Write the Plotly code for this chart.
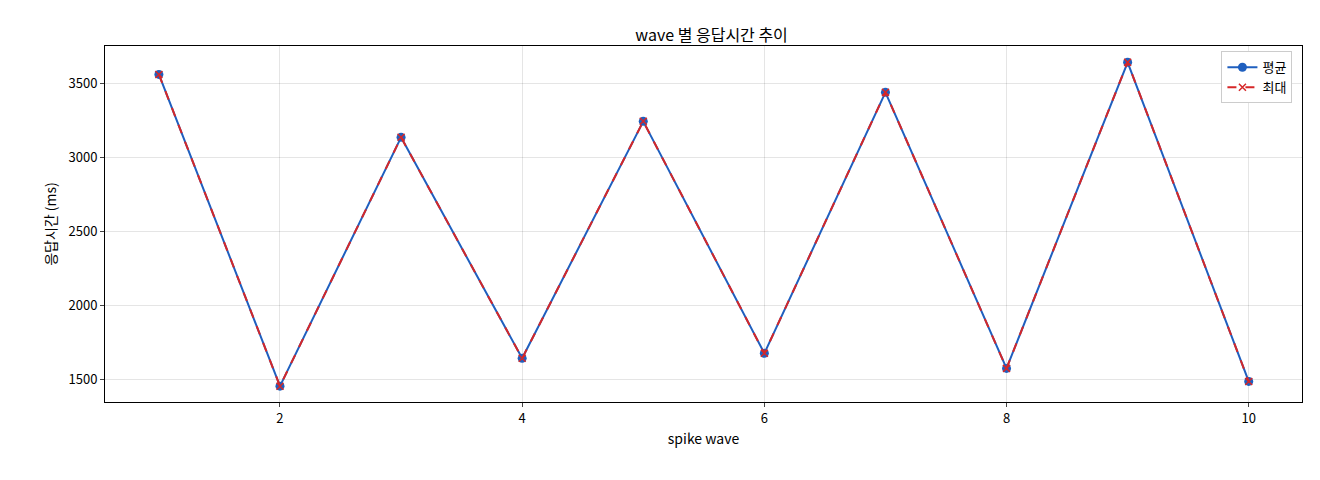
import plotly.graph_objects as go

waves = [1, 2, 3, 4, 5, 6, 7, 8, 9, 10]
avg_ms = [3558, 1452, 3133, 1640, 3241, 1674, 3437, 1572, 3640, 1484]
max_ms = [3558, 1452, 3133, 1640, 3241, 1674, 3437, 1572, 3640, 1484]

font = "Noto Sans CJK KR"
fig = go.Figure()
fig.add_trace(go.Scatter(x=waves, y=avg_ms, name="평균", mode="lines+markers",
                         line=dict(color="#1f5fbf", width=2), marker=dict(size=9, color="#1f5fbf")))
fig.add_trace(go.Scatter(x=waves, y=max_ms, name="최대", mode="lines+markers",
                         line=dict(color="#d62728", width=2, dash="dash"),
                         marker=dict(symbol="x-thin", size=7, line=dict(width=1.5, color="#d62728"), color="#d62728")))
ax = dict(showline=True, linecolor="black", mirror=True, gridcolor="rgba(0,0,0,0.1)",
          ticks="outside", ticklen=4, zeroline=False, tickfont=dict(size=13, color="black"))
fig.update_layout(
    width=1320, height=480, plot_bgcolor="white", paper_bgcolor="white",
    font=dict(family=font, color="black", size=13),
    title=dict(text="wave 별 응답시간 추이", x=0.533, xanchor="center", y=0.955, font=dict(size=16)),
    margin=dict(l=97, r=26, t=38, b=86),
    xaxis=dict(title=dict(text="spike wave", standoff=8, font=dict(size=14)), range=[0.555, 10.44], tickvals=[2, 4, 6, 8, 10], **ax),
    yaxis=dict(title=dict(text="응답시간 (ms)", standoff=8, font=dict(size=14)), range=[1345, 3750], tickvals=[1500, 2000, 2500, 3000, 3500], **ax),
    legend=dict(x=0.992, y=0.985, xanchor="right", yanchor="top", bordercolor="#ccc", borderwidth=1,
                bgcolor="white", font=dict(size=13)),
)
fig.write_html("out.html")
